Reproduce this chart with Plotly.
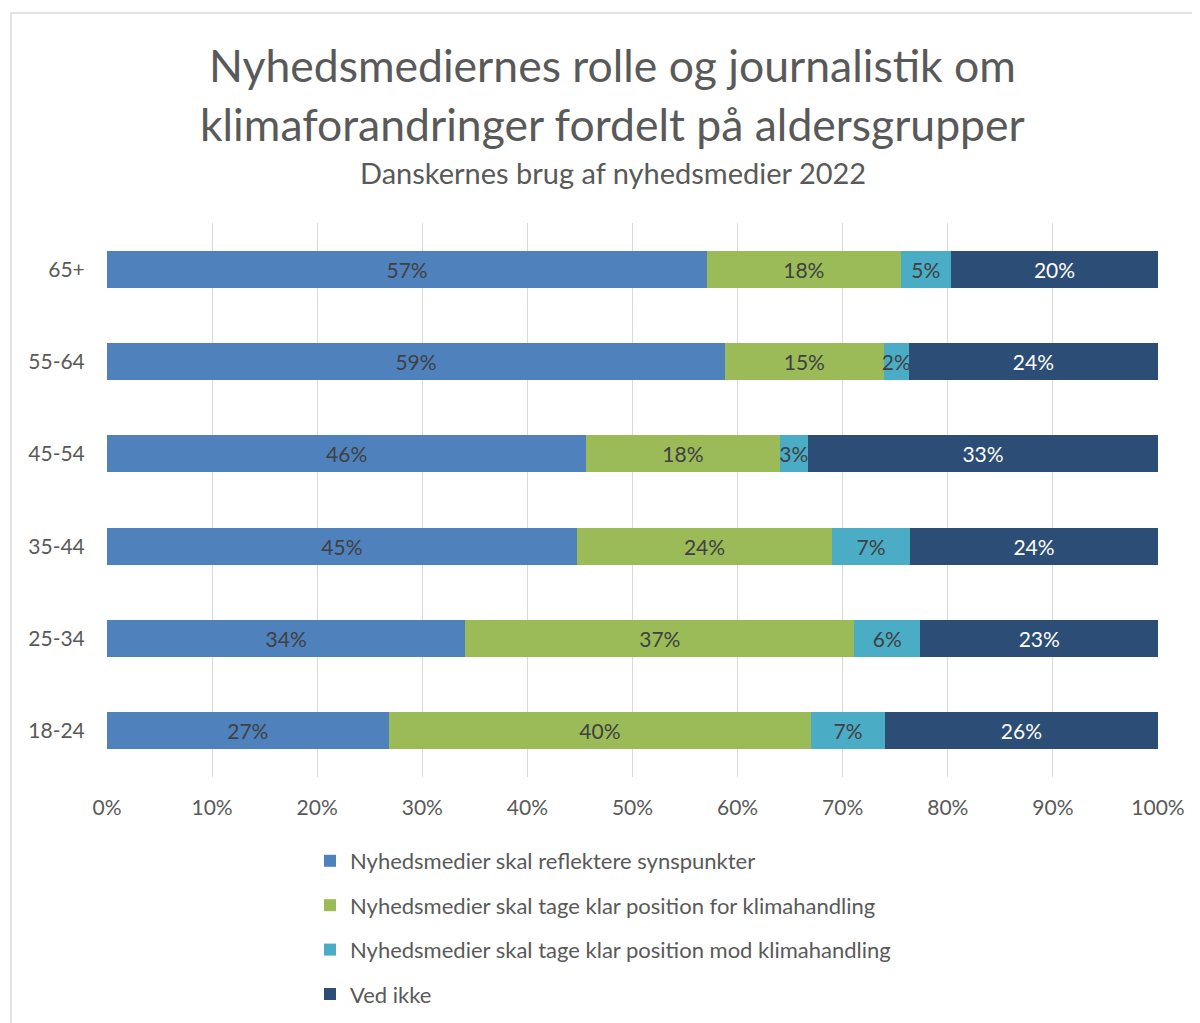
import plotly.graph_objects as go

categories = ["65+", "55-64", "45-54", "35-44", "25-34", "18-24"]
series_names = [
    "Nyhedsmedier skal reflektere synspunkter",
    "Nyhedsmedier skal tage klar position for klimahandling",
    "Nyhedsmedier skal tage klar position mod klimahandling",
    "Ved ikke",
]
reflektere = [0.571, 0.588, 0.456, 0.447, 0.341, 0.268]
for_klima = [0.184, 0.151, 0.184, 0.243, 0.370, 0.402]
mod_klima = [0.048, 0.024, 0.027, 0.074, 0.063, 0.070]
ved_ikke = [0.197, 0.237, 0.333, 0.236, 0.226, 0.260]
x_ticks = [0, 0.1, 0.2, 0.3, 0.4, 0.5, 0.6, 0.7, 0.8, 0.9, 1.0]
x_ticklabels = ["0%", "10%", "20%", "30%", "40%", "50%", "60%", "70%", "80%", "90%", "100%"]

colors = ["#4F81BD", "#9BBB59", "#4BACC6", "#2C4D75"]
text_colors = ["#404040", "#404040", "#404040", "#FFFFFF"]
FONT = "Lato"

fig = go.Figure()
for i, (name, vals) in enumerate(zip(series_names, [reflektere, for_klima, mod_klima, ved_ikke])):
    fig.add_trace(go.Bar(
        y=categories, x=vals, name=name, orientation="h",
        marker=dict(color=colors[i], line=dict(width=0)),
        width=0.4,
        texttemplate="%{x:.0%}", textposition="inside", insidetextanchor="middle",
        textangle=0,
        textfont=dict(family=FONT, size=21, color=text_colors[i]),
        constraintext="none",
        legendgroup=f"g{i}",
        hoverinfo="x+name",
    ))

OFF = 8  # page offset of the figure in the browser
W, H = 1200, 1023
# desired plot area in screen pixels
PL, PR, PT, PB = 107, 1158, 223, 777
L = PL - OFF
R = W - (PR - OFF)
T = PT - OFF
B = H - (PB - OFF)
pw, ph = PR - PL, PB - PT

def px_x(p):
    return (p - PL) / pw

def px_y(p):
    return (PB - p) / ph

fig.update_layout(
    width=W, height=H,
    barmode="stack",
    margin=dict(l=L, r=R, t=T, b=B, pad=0),
    paper_bgcolor="white", plot_bgcolor="white",
    font=dict(family=FONT, color="#595959"),
    uniformtext=dict(minsize=21, mode="show"),
    showlegend=True,
    legend=dict(
        orientation="v", x=px_x(310), y=px_y(840), xanchor="left", yanchor="top",
        font=dict(family=FONT, size=22, color="#595959"),
        traceorder="grouped", tracegroupgap=12.8, itemwidth=30,
        bgcolor="rgba(0,0,0,0)",
    ),
    xaxis=dict(
        range=[0, 1], tickvals=x_ticks, ticktext=x_ticklabels,
        showgrid=True, gridcolor="#D9D9D9", gridwidth=1.3,
        zeroline=False, showline=False,
        ticks="outside", ticklen=12, tickcolor="rgba(0,0,0,0)",
        tickfont=dict(family=FONT, size=21, color="#595959"),
        fixedrange=True,
    ),
    yaxis=dict(
        autorange="reversed", showgrid=False, showline=False, zeroline=False,
        ticks="outside", ticklen=17, tickcolor="rgba(0,0,0,0)",
        tickfont=dict(family=FONT, size=21, color="#595959"),
    ),
    annotations=[
        dict(text="Nyhedsmediernes rolle og journalistik om", xref="paper", yref="paper",
             x=px_x(612), y=px_y(65), xanchor="center", yanchor="middle", showarrow=False,
             font=dict(family=FONT, size=44.5, color="#595959")),
        dict(text="klimaforandringer fordelt på aldersgrupper", xref="paper", yref="paper",
             x=px_x(612), y=px_y(123), xanchor="center", yanchor="middle", showarrow=False,
             font=dict(family=FONT, size=44.5, color="#595959")),
        dict(text="Danskernes brug af nyhedsmedier 2022", xref="paper", yref="paper",
             x=px_x(613), y=px_y(172), xanchor="center", yanchor="middle", showarrow=False,
             font=dict(family=FONT, size=29, color="#595959")),
    ],
    shapes=[
        dict(type="rect", xref="paper", yref="paper",
             x0=px_x(11), x1=px_x(1230), y0=px_y(1060), y1=px_y(13),
             line=dict(color="#D9D9D9", width=1.5), fillcolor="rgba(0,0,0,0)", layer="below"),
    ],
)

fig.write_html("out.html")
